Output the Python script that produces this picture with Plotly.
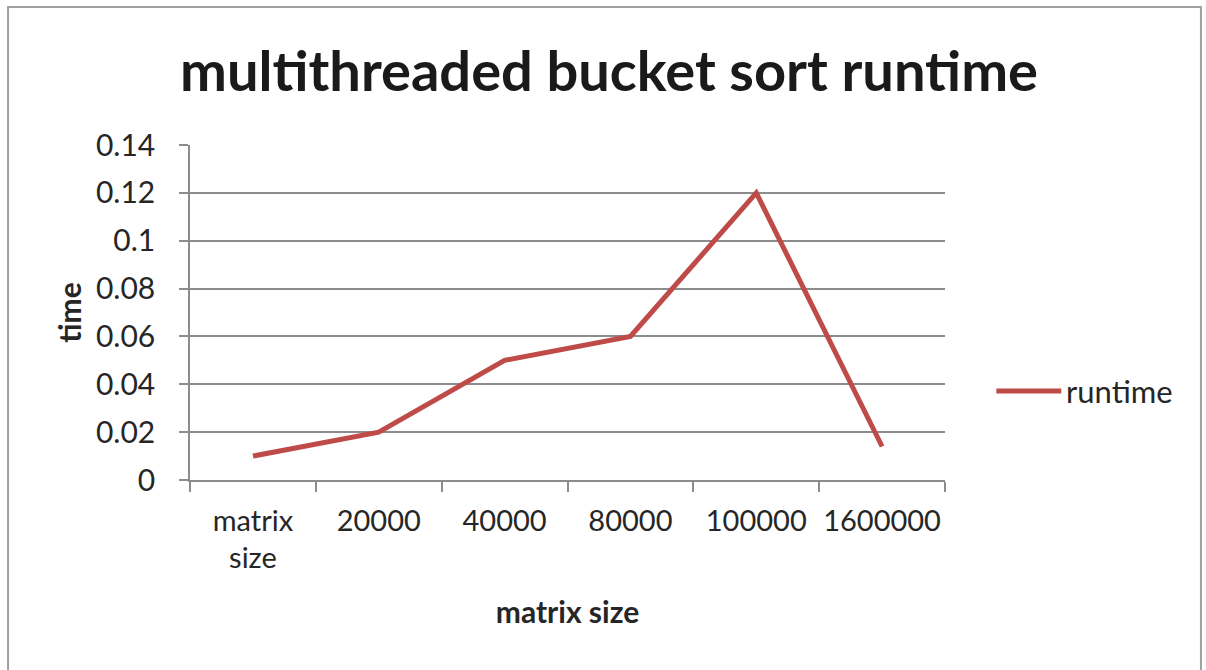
import plotly.graph_objects as go

# Runtime of the multithreaded bucket sort per input size
sizes = ["matrix<br>size", "20000", "40000", "80000", "100000", "1600000"]
runtime = [0.01, 0.02, 0.05, 0.06, 0.12, 0.014]
y_ticks = [0, 0.02, 0.04, 0.06, 0.08, 0.1, 0.12, 0.14]
y_tick_text = ["0", "0.02", "0.04", "0.06", "0.08", "0.1", "0.12", "0.14"]

LINE_RED = "#BE4B48"
GRID = "#8C8C8C"
TEXT = "#262626"
FONT = "Lato"

fig = go.Figure()
fig.add_trace(go.Scatter(
    x=sizes, y=runtime, mode="lines", name="runtime",
    line=dict(color=LINE_RED, width=5), showlegend=False,
))

fig.update_layout(
    width=1206, height=670,
    margin=dict(l=190, r=261, t=145, b=190),
    paper_bgcolor="white", plot_bgcolor="white",
    font=dict(family=FONT, color=TEXT, size=30),
    title=dict(text="<b>multithreaded bucket sort runtime</b>",
               font=dict(family=FONT, size=56, color="#1a1a1a"),
               x=0.505, xanchor="center", y=0.893, yanchor="middle"),
    xaxis=dict(
        type="category", tickson="boundaries", ticks="outside", ticklen=10,
        tickcolor=GRID, tickwidth=1.5, showline=True, linecolor=GRID, linewidth=1.5,
        showgrid=False, tickfont=dict(size=29, color=TEXT), range=[-0.5, 5.5],
        tickangle=0, ticklabelstandoff=14,
        title=dict(text="<b>matrix size</b>", font=dict(size=30, color=TEXT), standoff=29),
    ),
    yaxis=dict(
        range=[0, 0.14], tickvals=y_ticks, ticktext=y_tick_text,
        ticks="outside", ticklen=9, tickcolor=GRID, tickwidth=1.5,
        showline=True, linecolor=GRID, linewidth=1.5,
        showgrid=True, gridcolor=GRID, gridwidth=1.5, zeroline=False,
        tickfont=dict(size=30, color=TEXT), ticklabelstandoff=18,
        title=dict(text="<b>time</b>", font=dict(size=30, color=TEXT), standoff=5),
    ),
)

# Legend key drawn as a short line with its label
fig.add_shape(type="line", xref="paper", yref="paper",
              x0=1.068, x1=1.154, y0=0.266, y1=0.266,
              line=dict(color=LINE_RED, width=5))
fig.add_annotation(text="runtime", xref="paper", yref="paper",
                   x=1.157, y=0.266, xanchor="left", yanchor="middle",
                   showarrow=False, font=dict(size=31, color=TEXT))

# Chart frame
fig.add_shape(type="rect", xref="paper", yref="paper",
              x0=-0.241, x1=1.339, y0=-0.62, y1=1.412,
              line=dict(color="#A0A0A0", width=2), layer="below")

fig.write_html("out.html")
